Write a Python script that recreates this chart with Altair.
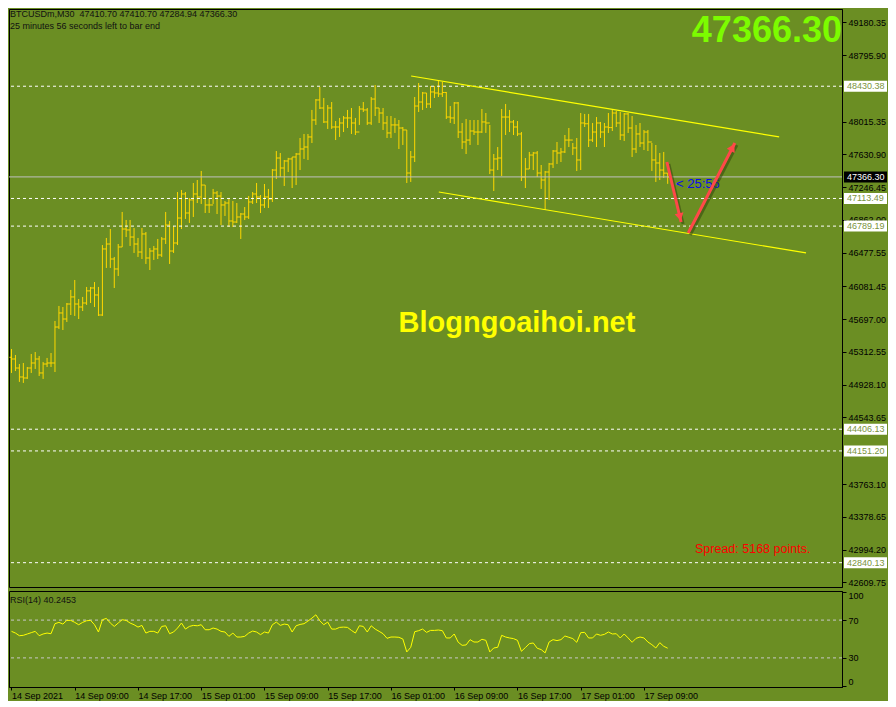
import altair as alt
import pandas as pd

# ---------------- values (BTCUSDm, M30) ----------------
opens = [
    45250, 45230, 45124, 45019, 45007, 45124, 45183, 45230, 45066, 45171,
    45183, 45183, 45605, 45770, 45699, 45875, 45958, 45875, 45840, 45887,
    46029, 46063, 45981, 45746, 46521, 46579, 46403, 46286, 46544, 46755,
    46744, 46661, 46579, 46485, 46697, 46415, 46497, 46521, 46450, 46638,
    46802, 46497, 46591, 46884, 47166, 46943, 47096, 47166, 47131, 47271,
    47037, 47037, 47178, 47142, 47037, 47060, 46849, 46837, 46896, 46931,
    46896, 47072, 47166, 47131, 47037, 47131, 47107, 47447, 47588, 47471,
    47553, 47577, 47600, 47635, 47694, 47717, 47835, 48034, 48269, 48175,
    48011, 48175, 47952, 47952, 47999, 48058, 48058, 47999, 47893, 48163,
    48152, 47999, 48280, 48175, 48116, 47999, 47882, 47976, 47976, 47940,
    47917, 47412, 47600, 48198, 48245, 48351, 48222, 48363, 48351, 48340,
    48357, 48069, 48058, 48234, 47893, 47776, 47799, 47905, 47893, 47893,
    48011, 47999, 47447, 47577, 47588, 48069, 48069, 48011, 47952, 47870,
    47365, 47459, 47623, 47647, 47412, 47330, 47424, 47518, 47670, 47647,
    47659, 47799, 47799, 47706, 47565, 47999, 47990, 47799, 47893, 47999,
    47893, 47952, 47945, 48116, 47999, 47858, 48105, 47940, 47694, 47870,
    47764, 47893, 47776, 47565, 47530, 47447, 47410.70,
]
highs = [
    45347, 45277, 45171, 45183, 45136, 45289, 45312, 45265, 45195, 45242,
    45300, 45676, 45852, 45840, 45887, 46040, 46157, 45934, 45958, 46075,
    46075, 46133, 46075, 46567, 46650, 46755, 46427, 46579, 46955, 46861,
    46861, 46767, 46650, 46767, 46720, 46532, 46556, 46638, 46661, 46955,
    46849, 46791, 47189, 47213, 47189, 47119, 47295, 47330, 47436, 47271,
    47119, 47225, 47201, 47189, 47084, 47107, 47084, 47060, 46943, 47013,
    47142, 47189, 47295, 47154, 47283, 47225, 47459, 47670, 47647, 47565,
    47590, 47600, 47647, 47823, 47870, 47870, 48152, 48280, 48421, 48292,
    48210, 48245, 48022, 48058, 48081, 48152, 48175, 48058, 48198, 48245,
    48175, 48304, 48445, 48175, 48175, 48081, 48081, 48058, 48034, 47952,
    47917, 47670, 48304, 48468, 48363, 48351, 48433, 48433, 48503, 48480,
    48363, 48198, 48245, 48245, 47999, 48046, 48034, 48034, 48034, 48163,
    48116, 47976, 47635, 47717, 48163, 48222, 48152, 48034, 48022, 47893,
    47588, 47659, 47659, 47670, 47506, 47436, 47530, 47682, 47776, 47706,
    47858, 47940, 47764, 47823, 48116, 48105, 48105, 47999, 48069, 48011,
    47999, 48116, 48163, 48140, 48128, 48116, 48116, 48081, 47976, 47999,
    47917, 47917, 47764, 47741, 47647, 47659, 47410.70,
]
lows = [
    45066, 45089, 44961, 44949, 44996, 45066, 45113, 45031, 44996, 45136,
    45136, 45077, 45582, 45570, 45664, 45746, 45735, 45699, 45793, 45864,
    45887, 45840, 45735, 45735, 46298, 46298, 46063, 46204, 46544, 46661,
    46556, 46474, 46427, 46403, 46345, 46274, 46392, 46403, 46427, 46579,
    46345, 46474, 46567, 46755, 46873, 46826, 46896, 47060, 47049, 46943,
    46943, 47049, 46931, 46802, 46908, 46779, 46779, 46826, 46638, 46861,
    46873, 47049, 47060, 46943, 47002, 47002, 47072, 47342, 47365, 47260,
    47424, 47236, 47271, 47447, 47577, 47565, 47764, 47976, 48163, 47999,
    47929, 47929, 47799, 47835, 47893, 47940, 47870, 47858, 47976, 48128,
    47976, 47976, 48081, 47999, 47917, 47823, 47823, 47882, 47694, 47741,
    47295, 47307, 47541, 48128, 48152, 48175, 48175, 48292, 48304, 48304,
    48046, 47999, 47987, 47823, 47694, 47635, 47741, 47858, 47741, 47882,
    47882, 47400, 47201, 47447, 47377, 47858, 47893, 47858, 47846, 47318,
    47236, 47459, 47447, 47365, 47225, 46978, 47096, 47471, 47518, 47541,
    47647, 47717, 47623, 47436, 47447, 47952, 47717, 47776, 47717, 47823,
    47717, 47882, 47905, 47952, 47799, 47788, 47882, 47600, 47647, 47717,
    47682, 47670, 47436, 47307, 47330, 47354, 47284.94,
]
closes = [
    45230, 45124, 45019, 45007, 45124, 45183, 45230, 45066, 45171, 45183,
    45183, 45605, 45770, 45699, 45875, 45958, 45875, 45840, 45887, 46029,
    46063, 45981, 45746, 46521, 46579, 46403, 46286, 46544, 46755, 46744,
    46661, 46579, 46485, 46697, 46415, 46497, 46521, 46450, 46638, 46802,
    46497, 46591, 46884, 47166, 46943, 47096, 47166, 47131, 47271, 47037,
    47037, 47178, 47142, 47037, 47060, 46849, 46837, 46896, 46931, 46896,
    47072, 47166, 47131, 47037, 47131, 47107, 47447, 47588, 47471, 47553,
    47577, 47600, 47635, 47694, 47717, 47835, 48034, 48269, 48175, 48011,
    48175, 47952, 47952, 47999, 48058, 48058, 47999, 47893, 48163, 48152,
    47999, 48280, 48175, 48116, 47999, 47882, 47976, 47976, 47940, 47917,
    47412, 47600, 48198, 48245, 48351, 48222, 48363, 48351, 48340, 48357,
    48069, 48058, 48234, 47893, 47776, 47799, 47905, 47893, 47893, 48011,
    47999, 47447, 47577, 47588, 48069, 48069, 48011, 47952, 47870, 47365,
    47459, 47623, 47647, 47412, 47330, 47424, 47518, 47670, 47647, 47659,
    47799, 47799, 47706, 47565, 47999, 47990, 47799, 47893, 47999, 47893,
    47952, 47945, 48116, 47999, 47858, 48105, 47940, 47694, 47870, 47764,
    47893, 47776, 47565, 47530, 47447, 47410.70, 47366.30,
]
rsi_values = [
    58.1, 56.3, 53.5, 53.9, 55.3, 56.7, 58.1, 53.5, 55.3, 56.3,
    55.6, 66.2, 67.6, 65.8, 69.7, 69.7, 67.6, 65.1, 67.6, 69.3,
    69.7, 65.1, 57.4, 70.4, 71.8, 66.9, 63.3, 66.9, 70.4, 69.7,
    66.9, 65.1, 62.6, 64.4, 56.3, 58.1, 58.1, 56.3, 63.3, 64.0,
    55.6, 57.4, 61.6, 66.9, 60.5, 63.3, 64.4, 64.0, 65.1, 59.8,
    59.8, 61.6, 60.5, 58.1, 57.4, 52.8, 56.3, 52.1, 52.1, 52.8,
    56.3, 58.4, 57.4, 54.6, 57.4, 56.3, 65.1, 67.9, 64.4, 65.8,
    65.1, 57.4, 64.0, 65.4, 66.2, 69.0, 72.1, 75.6, 69.3, 65.1,
    67.9, 60.5, 60.5, 62.3, 62.6, 62.3, 59.1, 56.3, 64.0, 63.3,
    57.4, 64.0, 60.5, 58.1, 55.6, 50.7, 52.1, 52.1, 51.8, 50.0,
    36.3, 41.2, 57.7, 58.8, 60.5, 57.0, 59.1, 59.1, 59.5, 58.8,
    51.1, 51.1, 55.3, 46.6, 43.3, 43.7, 49.3, 46.8, 46.8, 49.7,
    48.6, 36.3, 40.5, 41.2, 53.9, 52.1, 51.1, 50.4, 48.6, 37.0,
    40.9, 45.1, 45.8, 40.2, 38.8, 35.3, 46.8, 49.3, 48.3, 49.3,
    53.2, 51.8, 50.4, 46.5, 56.7, 57.0, 51.1, 51.1, 55.3, 53.9,
    54.9, 57.4, 55.3, 55.6, 51.1, 55.3, 51.1, 46.5, 50.7, 52.1,
    51.1, 46.8, 44.0, 40.5, 46.1, 42.3, 40.25,
]
bar_index = list(range(len(closes)))

time_tick_bars = [0, 16, 32, 48, 64, 80, 96, 112, 128, 144, 160]
time_tick_labels = ["14 Sep 2021", "14 Sep 09:00", "14 Sep 17:00", "15 Sep 01:00",
                    "15 Sep 09:00", "15 Sep 17:00", "16 Sep 01:00", "16 Sep 09:00",
                    "16 Sep 17:00", "17 Sep 01:00", "17 Sep 09:00"]

price_ticks = [49180.35, 48795.90, 48015.35, 47630.90, 47246.45, 46862.00, 46477.55,
               46081.45, 45697.00, 45312.55, 44928.10, 44543.65, 43763.10, 43378.65,
               42994.20, 42609.75]
level_prices = [48430.38, 47113.49, 46789.19, 44406.13, 44151.20, 42840.13]
bid_price = [47366.30]

rsi_levels = [70, 30]
rsi_ticks = [100, 70, 30, 0]

# trend channel (bar index / price)
trend_bar_start = [101.1, 108.1]
trend_bar_end = [194.2, 201.0]
trend_price_start = [48550, 47189]
trend_price_end = [47835, 46474]

# red arrows
arrow_bar_start = [165.8, 171.2]
arrow_bar_end = [169.4, 183.0]
arrow_price_start = [47541, 46708]
arrow_price_end = [46837, 47764]
head_bar = [169.1, 182.4]
head_price = [46895, 47712]
head_angle = [167, 28]

header_line1 = "BTCUSDm,M30\u00a0\u00a047410.70 47410.70 47284.94 47366.30"
header_line2 = "25 minutes 56 seconds left to bar end"
big_price = "47366.30"
watermark = "Blogngoaihoi.net"
spread_text = "Spread: 5168 points."
countdown_text = "< 25:56"
rsi_title = "RSI(14) 40.2453"

# ---------------- styling ----------------
FONT = "Liberation Sans"
GREEN = "#6B8E23"
GOLD = "#FFD700"
ARROW = "#FF4848"
W = 833
H_MAIN = 578
H_RSI = 96

x_scale = alt.Scale(domain=[-0.632, 210.10], nice=False, zero=False)
price_scale = alt.Scale(domain=[42554.7, 49336.4], nice=False, zero=False)
rsi_scale = alt.Scale(domain=[-0.8, 100.8], nice=False, zero=False)

bars = pd.DataFrame({"bar": bar_index, "open": opens, "high": highs,
                     "low": lows, "close": closes})
levels = pd.DataFrame({"price": level_prices,
                       "label": [f"{p:.2f}" for p in level_prices]})
bid = pd.DataFrame({"price": bid_price, "label": [f"{p:.2f}" for p in bid_price]})
trend = pd.DataFrame({"b": trend_bar_start, "b2": trend_bar_end,
                      "p": trend_price_start, "p2": trend_price_end})
arrows = pd.DataFrame({"b": arrow_bar_start, "b2": arrow_bar_end,
                       "p": arrow_price_start, "p2": arrow_price_end})
heads = pd.DataFrame({"b": head_bar, "p": head_price, "angle": head_angle})

price_axis = alt.Axis(orient="right", values=price_ticks, format=".2f",
                      labelFont=FONT, labelFontSize=9, labelColor="black",
                      tickColor="black", domainColor="black", tickSize=4,
                      labelPadding=2, grid=False, title=None, labelOverlap=False)
rsi_axis = alt.Axis(orient="right", values=rsi_ticks, labelFont=FONT, labelFontSize=9,
                    labelColor="black", tickColor="black", domainColor="black",
                    tickSize=4, labelPadding=2, grid=False, title=None, labelFlush=2,
                    labelOverlap=False)


def X(field):
    return alt.X(field, type="quantitative", scale=x_scale, axis=None)


def P(field):
    return alt.Y(field, type="quantitative", scale=price_scale, axis=price_axis)


wicks = alt.Chart(bars).mark_rule(color=GOLD, strokeWidth=1).encode(
    x=X("bar"), y=P("low"), y2="high:Q")
open_ticks = alt.Chart(bars).mark_rule(color=GOLD, strokeWidth=1, xOffset=-2).encode(
    x=X("bar"), x2="bar:Q", y=P("open"))
close_ticks = alt.Chart(bars).mark_rule(color=GOLD, strokeWidth=1, x2Offset=2).encode(
    x=X("bar"), x2="bar:Q", y=P("close"))

level_lines = alt.Chart(levels).mark_rule(color="white", strokeWidth=1,
                                          strokeDash=[3, 3]).encode(y=P("price"))
bid_line = alt.Chart(bid).mark_rule(color="#C0C0C0", strokeWidth=1).encode(y=P("price"))

trend_lines = alt.Chart(trend).mark_rule(color="#FFFF00", strokeWidth=1.2).encode(
    x=X("b"), x2="b2:Q", y=P("p"), y2="p2:Q")

countdown = alt.Chart(pd.DataFrame({"t": [countdown_text]})).mark_text(
    align="left", baseline="middle", font=FONT, fontSize=13, color="#0A0AF0").encode(
    text="t:N", x=alt.value(667), y=alt.value(175))

arrow_shadow = alt.Chart(arrows).mark_rule(
    color="#33460F", strokeWidth=3, opacity=0.55,
    xOffset=2, x2Offset=2, yOffset=2, y2Offset=2).encode(
    x=X("b"), x2="b2:Q", y=P("p"), y2="p2:Q")
arrow_lines = alt.Chart(arrows).mark_rule(color=ARROW, strokeWidth=3).encode(
    x=X("b"), x2="b2:Q", y=P("p"), y2="p2:Q")
arrow_heads = alt.Chart(heads).mark_point(shape="triangle-up", filled=True, size=80,
                                         color=ARROW, opacity=1).encode(
    x=X("b"), y=P("p"), angle=alt.Angle("angle:Q", scale=None))

level_boxes = alt.Chart(levels).mark_rect(color="white", yOffset=-5.5, y2Offset=5.5).encode(
    x=alt.value(W + 2), x2=alt.value(W + 45), y=P("price"), y2="price:Q")
level_texts = alt.Chart(levels).mark_text(align="left", baseline="middle", font=FONT,
                                          fontSize=9, color="#7A9440").encode(
    x=alt.value(W + 5), y=P("price"), text="label:N")
bid_box = alt.Chart(bid).mark_rect(color="black", yOffset=-5.5, y2Offset=5.5).encode(
    x=alt.value(W + 2), x2=alt.value(W + 45), y=P("price"), y2="price:Q")
bid_text = alt.Chart(bid).mark_text(align="left", baseline="middle", font=FONT,
                                    fontSize=9, color="white").encode(
    x=alt.value(W + 5), y=P("price"), text="label:N")


def ui_text(txt, x, y, **kw):
    return alt.Chart(pd.DataFrame({"t": [txt]})).mark_text(font=FONT, **kw).encode(
        text="t:N", x=alt.value(x), y=alt.value(y))


head1 = ui_text(header_line1, 1, 5, align="left", baseline="middle", fontSize=9, color="#111111")
head2 = ui_text(header_line2, 1, 17, align="left", baseline="middle", fontSize=9, color="#111111")
big = ui_text(big_price, W, 33, align="right", baseline="alphabetic", fontSize=36,
              fontWeight="bold", color="#7CFC00")
wm = ui_text(watermark, 508, 323, align="center", baseline="alphabetic", fontSize=29,
             fontWeight="bold", color="#FFFF00")
spread = ui_text(spread_text, 686, 540, align="left", baseline="middle", fontSize=12.5,
                 color="#FF0000")

main = alt.layer(
    wicks, open_ticks, close_ticks, level_lines, bid_line, trend_lines,
    countdown, arrow_shadow, arrow_lines, arrow_heads,
    level_boxes, level_texts, bid_box, bid_text,
    head1, head2, big, wm, spread,
).properties(width=W, height=H_MAIN)

# ---------------- RSI panel ----------------
label_expr = "".join(f"datum.value == {v} ? '{l}' : " for v, l in zip(time_tick_bars, time_tick_labels)) + "''"
time_axis = alt.Axis(values=time_tick_bars, labelExpr=label_expr, labelAlign="left",
                     labelFont=FONT, labelFontSize=9, labelColor="black",
                     tickColor="black", domainColor="black", tickSize=3,
                     labelPadding=1, grid=False, title=None, labelOverlap=False)

rsi_df = pd.DataFrame({"bar": bar_index, "rsi": rsi_values})
rsi_lines = alt.Chart(rsi_df).mark_line(color="#FFFF00", strokeWidth=1).encode(
    x=alt.X("bar:Q", scale=x_scale, axis=time_axis),
    y=alt.Y("rsi:Q", scale=rsi_scale, axis=rsi_axis),
)
rsi_lv = alt.Chart(pd.DataFrame({"lv": rsi_levels})).mark_rule(
    color="#C8C8C8", strokeWidth=1, strokeDash=[3, 3]).encode(
    y=alt.Y("lv:Q", scale=rsi_scale, axis=rsi_axis))
rsi_head = ui_text(rsi_title, 1, 9, align="left", baseline="middle", fontSize=9, color="#111111")

rsi = alt.layer(rsi_lv, rsi_lines, rsi_head).properties(width=W, height=H_RSI)

chart = alt.vconcat(main, rsi, spacing=2).properties(
    background=GREEN, padding=0
).configure_view(stroke="black", strokeWidth=1)

chart.save("out.html", embed_options={"renderer": "svg", "actions": False})
